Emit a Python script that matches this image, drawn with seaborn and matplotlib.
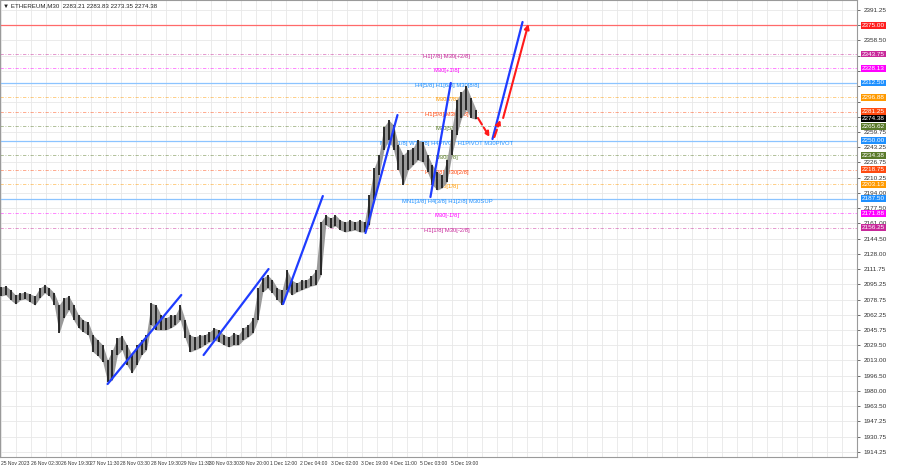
# ETHEREUM M30 chart with Murrey-style levels and trend lines

import matplotlib
matplotlib.use("Agg")
import matplotlib.pyplot as plt
import numpy as np
import pandas as pd
import seaborn as sns

# price samples, one every 5 M30 bars (high / low)
bar_time = list(range(0, 495, 5))
bar_high = [2092.3, 2093.4, 2089.1, 2083.7, 2085.8, 2086.9, 2084.8, 2082.6, 2091.2, 2094.5,
            2091.2, 2085.8, 2072.9, 2080.4, 2082.6, 2072.9, 2062.1, 2056.7, 2054.5, 2040.5,
            2035.1, 2029.7, 2013.5, 2024.3, 2037.3, 2039.4, 2029.7, 2018.9, 2029.7, 2035.1,
            2040.5, 2075.0, 2072.9, 2062.1, 2058.9, 2062.1, 2062.1, 2072.9, 2056.7, 2040.5,
            2038.4, 2040.5, 2040.5, 2043.8, 2048.1, 2045.9, 2040.5, 2038.4, 2042.7, 2040.5,
            2048.1, 2051.3, 2058.9, 2091.2, 2102.0, 2105.3, 2099.9, 2091.2, 2089.1, 2110.7,
            2099.9, 2096.6, 2099.9, 2099.9, 2104.2, 2110.7, 2162.5, 2170.0, 2166.8, 2170.0,
            2164.6, 2162.5, 2164.6, 2162.5, 2164.6, 2162.5, 2191.6, 2220.7, 2234.8, 2265.0,
            2272.5, 2267.1, 2245.6, 2234.8, 2240.2, 2242.3, 2251.0, 2248.8, 2234.8, 2224.0,
            2216.4, 2213.2, 2229.4, 2261.7, 2294.1, 2302.7, 2309.2, 2296.3, 2283.8]
bar_low = [2082.6, 2083.7, 2078.3, 2074.0, 2078.3, 2079.4, 2076.1, 2072.9, 2080.4, 2085.8,
           2082.6, 2072.9, 2042.7, 2058.9, 2067.5, 2056.7, 2048.1, 2043.8, 2040.5, 2022.2,
           2017.9, 2011.4, 1989.8, 1991.9, 2018.9, 2024.3, 2008.1, 1999.5, 2008.1, 2018.9,
           2024.3, 2051.3, 2045.9, 2045.9, 2045.9, 2048.1, 2051.3, 2056.7, 2037.3, 2022.2,
           2024.3, 2026.5, 2029.7, 2033.0, 2035.1, 2033.0, 2029.7, 2027.6, 2029.7, 2029.7,
           2035.1, 2038.4, 2042.7, 2056.7, 2086.9, 2091.2, 2085.8, 2078.3, 2072.9, 2089.1,
           2083.7, 2086.9, 2089.1, 2091.2, 2093.4, 2094.5, 2105.3, 2159.2, 2156.0, 2158.1,
           2153.8, 2151.7, 2152.7, 2153.8, 2151.7, 2151.7, 2159.2, 2186.2, 2213.2, 2240.2,
           2251.0, 2240.2, 2218.6, 2202.4, 2218.6, 2224.0, 2229.4, 2227.2, 2216.4, 2202.4,
           2197.0, 2199.2, 2205.6, 2234.8, 2256.3, 2274.7, 2283.3, 2274.7, 2273.4]

time_ticks = [0, 31, 62, 92, 123, 155, 186, 215, 246, 277, 308, 340, 371, 401, 432, 464]
time_labels = ["25 Nov 2023", "26 Nov 02:30", "26 Nov 19:30", "27 Nov 11:30", "28 Nov 03:30",
               "28 Nov 19:30", "29 Nov 11:30", "30 Nov 03:30", "30 Nov 20:00", "1 Dec 12:00",
               "2 Dec 04:00", "3 Dec 02:00", "3 Dec 19:00", "4 Dec 11:00", "5 Dec 03:00",
               "5 Dec 19:00"]

price_ticks = [1914.25, 1930.75, 1947.25, 1963.50, 1980.00, 1996.50, 2013.00, 2029.50,
               2045.75, 2062.25, 2078.75, 2095.25, 2111.75, 2128.00, 2144.50, 2161.00,
               2177.50, 2194.00, 2210.25, 2226.75, 2243.25, 2259.75, 2276.00, 2292.50,
               2309.00, 2325.50, 2342.00, 2358.50, 2375.00, 2391.25]
# scale labels that sit under a coloured price box
hidden_ticks = [2276.00, 2292.50, 2309.00, 2325.50, 2342.00, 2375.00]

level_prices = [2375.00, 2343.75, 2328.13, 2312.50, 2296.88, 2281.25, 2265.62, 2250.00,
                2234.38, 2218.75, 2203.13, 2187.50, 2171.88, 2156.25]
level_names = ["", "H1[7/8] M30[+2/8]", "M30[+1/8]", "H4[5/8] H1[6/8] M30[8/8]", "M30[7/8]",
               "H1[5/8] M30[6/8]", "M30[5/8]", "MN1[+1/8] W1[8/8] H4PIVOT H1PIVOT M30PIVOT",
               "M30[3/8]", "H1[3/8] M30[2/8]", "M30[1/8]", "MN1[3/8] H4[3/8] H1[2/8] M30SUP",
               "M30[-1/8]", "H1[1/8] M30[-2/8]"]
level_colors = ["#ff1f1f", "#c8289a", "#ff00ff", "#1e90ff", "#ff9a00", "#ff4a10", "#5a7a2a",
                "#1e90ff", "#5a7a2a", "#ff4a10", "#ff9a00", "#1e90ff", "#ff00ff", "#c8289a"]
level_solid = [True, False, False, True, False, False, False, True, False, False, False,
               True, False, False]

last_price = 2274.38
title_text = "ETHEREUM,M30  2283.21 2283.83 2273.35 2274.38"

# blue trend lines (start / end in bars and price)
trend_t0 = [110, 209, 291, 376, 443, 507]
trend_p0 = [1987.6, 2018.9, 2074.0, 2150.6, 2189.4, 2252.0]
trend_t1 = [186, 276, 332, 409, 464, 538]
trend_p1 = [2083.7, 2111.7, 2190.5, 2277.9, 2312.5, 2378.3]

# red forecast arrows
arrow_t0 = [492, 509, 518]
arrow_p0 = [2274.7, 2254.2, 2274.7]
arrow_t1 = [504, 515, 544]
arrow_p1 = [2254.2, 2272.6, 2376.1]
arrow_dashed = [True, True, False]

sns.set_style("white")
narrow = ["Liberation Sans Narrow", "Liberation Sans", "DejaVu Sans"]
plt.rcParams["font.family"] = narrow

fig = plt.figure(figsize=(9, 4.68), dpi=100)
ax = fig.add_axes([0.0, 11 / 468, 857 / 900, 457 / 468])
ax.set_xlim(-1, 883)
ax.set_ylim(1908.85, 2402.05)

# grid
for gx in np.arange(0, 884, 15.5):
    ax.axvline(gx, color="#e8e8e8", lw=0.6, zorder=0)
for gy in price_ticks:
    ax.axhline(gy, color="#e8e8e8", lw=0.6, zorder=0)

# level lines and their labels
for p, name, c, solid in zip(level_prices, level_names, level_colors, level_solid):
    if solid:
        lc = "#ff6a6a" if c == "#ff1f1f" else "#8cc4ff"
        ax.axhline(p, color=lc, lw=0.9, zorder=1)
    else:
        ax.axhline(p, color=c, lw=0.6, alpha=0.55, ls=(0, (4, 2, 1, 2)), zorder=1)
    if name:
        ax.text(460, p, name, color=c, fontsize=4.2, ha="center", va="top", zorder=2)

# price bars: a dense band of M30 bars
ax.fill_between(bar_time, bar_low, bar_high, color="#9a9a9a", lw=0, zorder=3)
ax.vlines(bar_time, bar_low, bar_high, color="#1e1e1e", lw=1.3, zorder=3)

# trend lines
trend = pd.DataFrame({
    "seg": list(range(len(trend_t0))) * 2,
    "t": trend_t0 + trend_t1,
    "p": trend_p0 + trend_p1,
})
sns.lineplot(data=trend, x="t", y="p", units="seg", estimator=None, color="#1f3cff",
             lw=1.6, ax=ax, zorder=4)

for t0, p0, t1, p1, dashed in zip(arrow_t0, arrow_p0, arrow_t1, arrow_p1, arrow_dashed):
    ax.annotate("", xy=(t1, p1), xytext=(t0, p0), zorder=5,
                arrowprops=dict(arrowstyle="-|>", color="#ff1a1a", lw=1.5,
                                ls="--" if dashed else "-", mutation_scale=7,
                                shrinkA=0, shrinkB=0))

# axes look
ax.set_xlabel("")
ax.set_ylabel("")
ax.yaxis.tick_right()
ax.set_yticks(price_ticks)
ax.set_yticklabels(["" if v in hidden_ticks else f"{v:.2f}" for v in price_ticks])
ax.set_xticks(time_ticks)
ax.set_xticklabels(time_labels, ha="left")
ax.tick_params(axis="y", labelsize=4.6, length=2, pad=3, colors="#333333", width=0.5)
ax.tick_params(axis="x", labelsize=3.6, length=2, pad=1, colors="#333333", width=0.5)
for s in ax.spines.values():
    s.set_color("#9a9a9a")
    s.set_linewidth(0.8)

# coloured price boxes on the right scale
box_prices = level_prices + [last_price]
box_colors = level_colors + ["#000000"]
for p, c in zip(box_prices, box_colors):
    ax.text(1.006, p, f"{p:.2f}", transform=ax.get_yaxis_transform(), color="white",
            fontsize=4.6, ha="left", va="center", clip_on=False, zorder=10,
            bbox=dict(boxstyle="square,pad=0.15", fc=c, ec="none"))

ax.text(0.004, 0.992, "\u25bc " + title_text, transform=ax.transAxes, fontsize=4.4,
        ha="left", va="top", color="#222222")

fig.savefig("out.png", dpi=100)
